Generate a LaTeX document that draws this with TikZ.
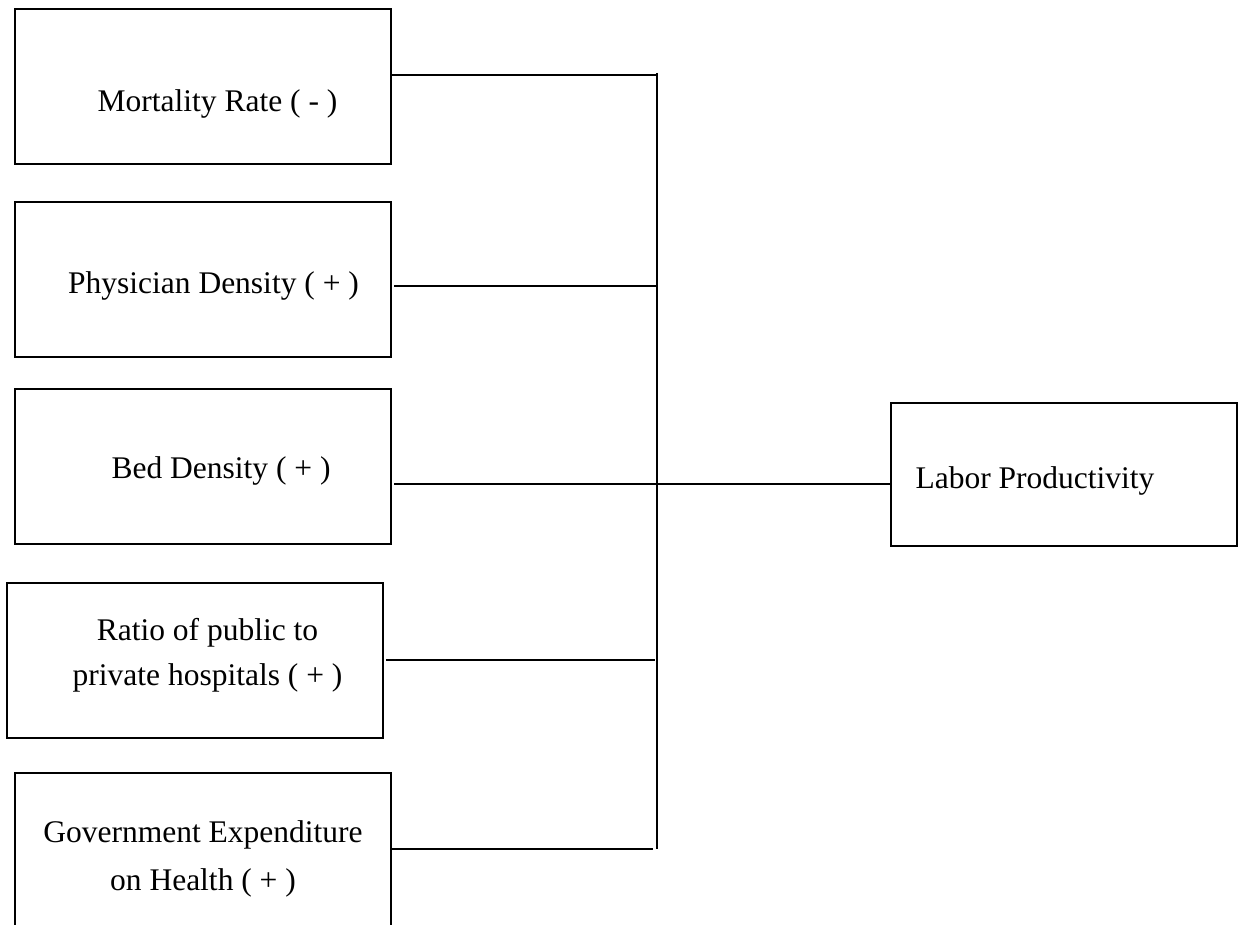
\documentclass[tikz,border=0pt]{standalone}
\usepackage{fontspec}
\setmainfont{Liberation Serif}
\begin{document}
\begin{tikzpicture}[x=1pt,y=-1pt,
  box/.style={draw, line width=1.6pt, rectangle, outer sep=0pt, inner sep=0pt},
  lbl/.style={anchor=base, inner sep=0pt, font=\fontsize{31.5}{40}\selectfont},
  conn/.style={line width=1.8pt}]
\useasboundingbox (0,0) rectangle (1238,925);
\clip (0,0) rectangle (1238,925);
% boxes
\node[box, minimum width=376pt, minimum height=155pt] (m) at (203,86.5) {};
\node[box, minimum width=376pt, minimum height=155pt] (p) at (203,279.5) {};
\node[box, minimum width=376pt, minimum height=155pt] (b) at (203,466.5) {};
\node[box, minimum width=376pt, minimum height=155pt] (r) at (195,660.5) {};
\node[box, minimum width=376pt, minimum height=220pt] (g) at (203,883) {};
\node[box, minimum width=346pt, minimum height=143pt] (l) at (1064,474.5) {};
% labels
\node[lbl] (mt) at (217.5,112) {Mortality Rate ( - )};
\node[lbl] (pt) at (213.5,293) {Physician Density ( + )};
\node[lbl] (bt) at (221,478) {Bed Density ( + )};
\node[lbl] (rt1) at (207.5,640) {Ratio of public to};
\node[lbl] (rt2) at (207.5,685) {private hospitals ( + )};
\node[lbl] (gt1) at (203,842) {Government Expenditure};
\node[lbl] (gt2) at (203,890) {on Health ( + )};
\node[lbl] (lt) at (1035,488) {Labor Productivity};
% junction points
\coordinate (top) at (657,73);
\coordinate (bot) at (657,849);
\coordinate (jm) at (657,75);
\coordinate (jp) at (658,286);
\coordinate (jb) at (657,484);
\coordinate (jr) at (655,660);
\coordinate (jg) at (653,849);
% connectors
\draw[conn] (top) -- (bot);
\draw[conn] (m.east |- jm) -- (jm);
\draw[conn] ([xshift=3pt]p.east |- jp) -- (jp);
\draw[conn] ([xshift=3pt]b.east |- jb) -- (l.west |- jb);
\draw[conn] ([xshift=3pt]r.east |- jr) -- (jr);
\draw[conn] (g.east |- jg) -- (jg);
\end{tikzpicture}
\end{document}
